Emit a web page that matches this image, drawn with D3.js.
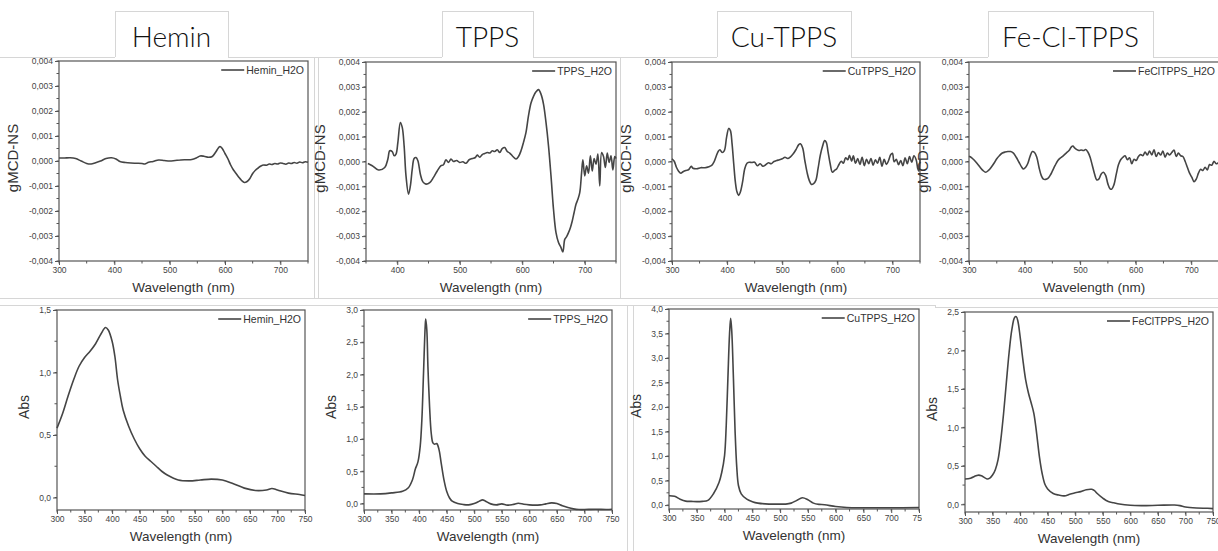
<!DOCTYPE html>
<html>
<head>
<meta charset="utf-8">
<script src="https://cdn.jsdelivr.net/npm/d3@7"></script>
<style>
  html, body { margin: 0; padding: 0; background: #fff; }
  svg { display: block; }
  text { font-family: "Liberation Sans", Arial, sans-serif; }
</style>
</head>
<body>
<svg id="chart" width="1218" height="551"></svg>
<script>
// ---- data ----
const titles = ["Hemin", "TPPS", "Cu-TPPS", "Fe-Cl-TPPS"];
const legendNames = ["Hemin_H2O", "TPPS_H2O", "CuTPPS_H2O", "FeClTPPS_H2O"];

// gMCD-NS, [wavelength nm, value]
const heminMcd = [[300,0.00012],[310,0.00012],[320,0.00013],[330,0.0001],[340,0.0],[350,-0.0001],[358,-0.00012],[365,-0.00008],[375,0.0],[385,0.0001],[395,0.00013],[403,0.00008],[410,-0.00002],[420,-0.00006],[430,-0.00008],[440,-0.00009],[450,-0.0001],[455,-0.00012],[462,-0.00005],[470,-0.00002],[480,0.00004],[490,0.00002],[500,0.0],[510,0.00002],[520,0.00004],[530,0.00005],[540,0.00006],[548,0.00012],[555,0.0002],[562,0.00019],[570,0.00015],[577,0.00018],[583,0.00035],[588,0.00052],[591,0.00058],[595,0.0005],[600,0.0003],[605,0.0001],[610,-0.00015],[615,-0.00035],[620,-0.0005],[625,-0.00065],[630,-0.00078],[635,-0.00086],[640,-0.00082],[645,-0.0007],[650,-0.0005],[655,-0.00037],[660,-0.00028],[665,-0.0002],[670,-0.00016],[675,-0.00017],[680,-0.00012],[685,-0.00014],[690,-0.0001],[695,-0.00012],[700,-0.00008],[705,-0.0001],[710,-0.00013],[715,-0.00008],[720,-0.0001],[725,-0.00006],[730,-0.00009],[735,-0.00004],[740,-0.00007],[745,-0.00003],[750,-0.00005]];
const tppsMcd = [[353,-0.00008],[360,-0.00017],[370,-0.00034],[380,-0.00024],[385,0.0001],[388,0.00043],[392,0.0004],[395,0.00023],[398,0.0003],[401,0.00077],[405,0.00157],[408,0.00137],[411,0.00063],[414,-0.00058],[418,-0.00131],[421,-0.00098],[424,-0.00031],[427,0.00012],[430,0.00016],[433,0.00003],[437,-0.00051],[441,-0.00082],[446,-0.00091],[452,-0.00085],[458,-0.00064],[464,-0.00038],[470,-0.00017],[474,-0.00013],[478,0.00007],[482,-0.00004],[486,0.0001],[490,0],[495,0.00004],[500,-0.00004],[505,-0.00001],[510,-0.00007],[515,0.00007],[520,0.00012],[525,0.00016],[528,0.00026],[532,0.00017],[536,0.00028],[540,0.00032],[544,0.00036],[548,0.00034],[552,0.00043],[556,0.0004],[560,0.00047],[564,0.00036],[568,0.00052],[572,0.00056],[576,0.0004],[580,0.00034],[585,0.0002],[590,0.0001],[594,0.0002],[598,0.00043],[602,0.00077],[606,0.00117],[610,0.00184],[614,0.00235],[618,0.00262],[622,0.0028],[626,0.00289],[630,0.00271],[634,0.00231],[638,0.00157],[642,0.00063],[646,-0.00058],[650,-0.00192],[654,-0.00286],[658,-0.00326],[662,-0.00346],[665,-0.00364],[668,-0.00313],[671,-0.00302],[674,-0.00286],[677,-0.00266],[680,-0.00239],[683,-0.00205],[686,-0.00172],[689,-0.00152],[692,-0.00125],[695,-0.00044],[697,0.00007],[700,-0.00058],[703,-0.00017],[706,-0.00047],[709,0.00023],[712,-0.00038],[715,0.00012],[718,-0.00011],[721,0.0003],[724,-0.00098],[727,0.00036],[730,0.0002],[733,-0.00024],[736,0.00034],[739,-0.00004],[742,0.00023],[745,-0.00034],[748,0.0002],[750,0.00012]];
const cuMcd = [[300,0.00011],[304,0.00001],[308,-0.00023],[312,-0.00039],[316,-0.00047],[320,-0.00041],[325,-0.00036],[330,-0.00033],[335,-0.00019],[338,-0.00027],[345,-0.00029],[352,-0.00025],[360,-0.00025],[367,-0.00021],[372,-0.00016],[376,-0.00003],[380,0.0002],[384,0.00041],[387,0.00047],[391,0.00036],[395,0.00044],[399,0.00097],[403,0.00133],[406,0.00124],[409,0.00071],[412,-0.00009],[415,-0.00083],[418,-0.00123],[421,-0.00136],[424,-0.00123],[428,-0.00083],[432,-0.00029],[436,-0.00007],[440,-0.00003],[445,-0.00004],[450,-0.00003],[455,-0.00017],[460,-0.00009],[465,-0.00019],[470,-0.00013],[475,-0.00005],[480,-0.00009],[485,0],[490,0.00004],[495,0.00007],[500,0.00011],[505,0.00017],[510,0.00012],[515,0.00019],[520,0.00031],[525,0.00048],[530,0.00068],[533,0.00071],[537,0.00055],[541,0.00004],[545,-0.00043],[549,-0.00076],[553,-0.00092],[557,-0.00089],[561,-0.00076],[565,-0.00029],[569,0.00024],[573,0.0006],[577,0.00084],[580,0.00077],[583,0.00041],[587,-0.00009],[591,-0.00043],[595,-0.00036],[599,-0.00029],[603,-0.00012],[607,0.00001],[611,-0.00007],[615,0.00015],[619,0.00007],[622,0.00025],[626,0.00001],[629,0.00023],[633,-0.00007],[637,0.00012],[641,-0.00012],[645,0.00017],[649,-0.00017],[653,0.00009],[657,-0.00009],[661,0.00012],[665,-0.00015],[669,0.00007],[673,-0.00007],[677,0.00017],[681,-0.00019],[685,0.00009],[689,-0.00012],[693,0.00004],[697,0.00028],[700,0.00033],[703,-0.00001],[707,0.00009],[711,-0.00013],[715,0.00004],[719,-0.00017],[723,0.00015],[727,-0.00009],[731,0.0002],[735,-0.00003],[739,0.00023],[743,0.00007],[746,-0.00029],[748,-0.00039],[750,0.00007]];
const feMcd = [[300,0.00021],[305,0.00015],[310,0.00004],[315,-0.00009],[320,-0.00023],[325,-0.00036],[330,-0.00043],[335,-0.00036],[340,-0.00023],[345,-0.00007],[350,0.00011],[355,0.00024],[360,0.00034],[365,0.00038],[370,0.0004],[375,0.0004],[380,0.00034],[385,0.00017],[390,-0.00003],[395,-0.00023],[398,-0.0003],[402,-0.00023],[406,-0.00007],[410,0.00021],[414,0.0004],[418,0.00036],[422,0.00017],[426,-0.00023],[430,-0.00056],[434,-0.00071],[438,-0.00072],[442,-0.00068],[446,-0.00056],[450,-0.00039],[455,-0.00016],[460,0.00004],[465,0.00015],[470,0.00024],[475,0.00034],[480,0.00044],[484,0.00058],[487,0.00062],[490,0.00055],[494,0.00048],[498,0.00044],[502,0.00046],[506,0.00044],[510,0.00048],[514,0.00038],[518,0.00017],[522,-0.00016],[526,-0.0005],[530,-0.00074],[534,-0.0007],[538,-0.0005],[542,-0.00043],[546,-0.00056],[550,-0.0009],[554,-0.0011],[557,-0.00111],[561,-0.00093],[565,-0.00052],[569,-0.00013],[573,0.00007],[577,0.00017],[581,0.00023],[585,0.00007],[589,0.00015],[593,-0.00009],[597,0.00009],[601,0.00004],[605,0.0002],[609,0.00028],[613,0.00023],[617,0.00038],[621,0.00026],[625,0.00042],[629,0.00026],[633,0.00047],[637,0.0002],[641,0.00036],[645,0.00026],[649,0.00042],[653,0.00017],[657,0.00034],[661,0.00026],[665,0.00036],[669,0.00046],[673,0.0002],[677,0.00034],[681,0.00023],[685,0.0002],[689,0.00001],[693,-0.00023],[697,-0.00047],[701,-0.00063],[705,-0.00081],[709,-0.00071],[713,-0.00047],[717,-0.00031],[721,-0.00036],[725,-0.00023],[729,-0.00034],[733,-0.00012],[737,-0.00015],[741,0.00001],[745,-0.00009],[750,-0.00003]];

// Abs, [wavelength nm, value]
const heminAbs = [[300,0.555],[310,0.67],[320,0.81],[330,0.94],[340,1.05],[350,1.12],[360,1.17],[370,1.23],[380,1.31],[388,1.36],[393,1.34],[400,1.25],[405,1.13],[410,0.94],[415,0.81],[420,0.7],[430,0.57],[440,0.47],[450,0.39],[460,0.33],[470,0.29],[480,0.25],[490,0.21],[500,0.18],[520,0.14],[540,0.133],[560,0.14],[580,0.147],[600,0.14],[620,0.11],[640,0.075],[660,0.056],[680,0.06],[690,0.072],[700,0.06],[720,0.035],[740,0.024],[750,0.016]];
const tppsAbs = [[300,0.15],[330,0.15],[350,0.165],[370,0.19],[380,0.24],[388,0.37],[393,0.53],[398,0.65],[402,0.89],[405,1.3],[408,2.02],[411,2.74],[412,2.86],[414,2.69],[416,2.12],[419,1.5],[422,1.09],[425,0.94],[428,0.92],[432,0.93],[436,0.84],[440,0.63],[445,0.37],[450,0.19],[455,0.09],[460,0.036],[470,0.0],[480,-0.015],[490,-0.02],[500,0.0],[510,0.04],[515,0.057],[520,0.04],[530,-0.005],[540,-0.02],[550,-0.005],[560,-0.025],[570,-0.015],[580,0.005],[590,-0.01],[600,-0.02],[610,-0.025],[620,-0.02],[630,-0.005],[640,0.01],[650,0.0],[660,-0.036],[670,-0.062],[680,-0.082],[690,-0.093],[700,-0.093],[720,-0.088],[740,-0.093],[750,-0.088]];
const cuAbs = [[300,0.19],[310,0.18],[320,0.12],[330,0.08],[340,0.075],[350,0.07],[360,0.075],[370,0.095],[380,0.23],[390,0.46],[395,0.67],[400,1.01],[403,1.62],[406,2.58],[409,3.5],[411,3.81],[413,3.54],[416,2.58],[419,1.49],[422,0.77],[425,0.4],[430,0.23],[440,0.12],[450,0.07],[460,0.04],[480,0.02],[500,0.02],[510,0.02],[520,0.04],[530,0.096],[540,0.15],[550,0.11],[560,0.04],[570,0.014],[580,0.007],[600,-0.03],[620,-0.05],[650,-0.055],[700,-0.055],[750,-0.05]];
const feAbs = [[300,0.33],[310,0.34],[320,0.37],[325,0.38],[330,0.37],[340,0.33],[345,0.34],[350,0.38],[355,0.45],[360,0.58],[365,0.84],[370,1.18],[375,1.58],[380,1.97],[385,2.27],[390,2.43],[393,2.44],[396,2.38],[400,2.18],[405,1.88],[410,1.62],[415,1.45],[420,1.32],[425,1.18],[430,0.92],[435,0.62],[440,0.4],[445,0.26],[450,0.2],[460,0.14],[470,0.12],[480,0.11],[490,0.13],[500,0.15],[510,0.165],[520,0.19],[530,0.195],[535,0.178],[540,0.14],[550,0.08],[560,0.035],[570,0.02],[580,0.004],[600,-0.013],[620,-0.017],[650,-0.013],[680,-0.009],[690,-0.017],[700,-0.035],[720,-0.048],[740,-0.052],[750,-0.056]];

const mcdYTicks = [-0.004,-0.003,-0.002,-0.001,0,0.001,0.002,0.003,0.004];
const mcdXTicks = [300,400,500,600,700];
const absXTicks = [300,350,400,450,500,550,600,650,700,750];
const heminAbsYTicks = [0,0.5,1.0,1.5];
const tppsAbsYTicks = [0,0.5,1.0,1.5,2.0,2.5,3.0];
const cuAbsYTicks = [0,0.5,1.0,1.5,2.0,2.5,3.0,3.5,4.0];
const feAbsYTicks = [0,0.5,1.0,1.5,2.0,2.5];

// ---- drawing ----
const svg = d3.select("#chart");
const sepColor = "#d6d6d6", axisColor = "#555", lineColor = "#454545";

const commaFmt = dp => v => (v < 0 ? "-" : "") + Math.abs(v).toFixed(dp).replace(".", ",");

// light frames of the pasted screenshots
const seps = [
  [0,57,115,57],[228,57,442,57],[533,57,717,57],[851,57,988,57],[1153,57,1218,57],
  [314,57,314,298],[318,57,318,298],[620,57,620,298],
  [0,298,1218,298],[0,305,935,305],[935,305,935,307],[935,307,1218,307],
  [627,305,627,551],[633,305,633,551]
];
svg.append("g").selectAll("line").data(seps).join("line")
  .attr("x1", d => d[0]).attr("y1", d => d[1]).attr("x2", d => d[2]).attr("y2", d => d[3])
  .attr("stroke", sepColor).attr("stroke-width", 1).attr("shape-rendering", "crispEdges");

// title tabs
const tabs = [[115,228],[442,533],[717,851],[988,1153]];
const tabG = svg.append("g").selectAll("g").data(tabs).join("g");
tabG.append("path")
  .attr("d", d => `M${d[0]},57V11H${d[1]}V57`)
  .attr("fill", "#fff").attr("stroke", sepColor).attr("shape-rendering", "crispEdges");
tabG.append("text")
  .attr("x", d => (d[0] + d[1]) / 2).attr("y", 47)
  .attr("text-anchor", "middle")
  .style("font-family", "Lato, 'Open Sans', sans-serif").style("font-size", "28px")
  .style("font-weight", "300").attr("fill", "#111")
  .text((d, i) => titles[i]);

let clipId = 0;
function drawPlot(o) {
  const g = svg.append("g");
  if (o.clipRight) {
    const id = "clip" + (clipId++);
    svg.append("clipPath").attr("id", id).append("rect")
      .attr("x", 0).attr("y", 0).attr("width", o.clipRight).attr("height", 551);
    g.attr("clip-path", `url(#${id})`);
  }
  const x = d3.scaleLinear().domain(o.xDomain).range([o.left, o.right]);
  const y = d3.scaleLinear().domain(o.yDomain).range([o.bottom, o.top]);

  // minor ticks
  const xMinor = d3.range(o.xDomain[0], o.xDomain[1] + 0.01, o.xMinorStep).filter(v => v >= o.xDomain[0]);
  const yMinor = d3.range(0, o.yDomain[1] + 1e-9, o.yMinorStep).concat(d3.range(-o.yMinorStep, o.yDomain[0] - 1e-9, -o.yMinorStep));
  g.append("g").selectAll("line").data(xMinor).join("line")
    .attr("x1", d => x(d)).attr("x2", d => x(d)).attr("y1", o.bottom).attr("y2", o.bottom + 2.5)
    .attr("stroke", axisColor);
  g.append("g").selectAll("line").data(yMinor.filter(v => v >= o.yDomain[0] && v <= o.yDomain[1])).join("line")
    .attr("y1", d => y(d)).attr("y2", d => y(d)).attr("x1", o.left - 2.5).attr("x2", o.left)
    .attr("stroke", axisColor);

  // major ticks via axes
  const xAxis = d3.axisBottom(x).tickValues(o.xTicks).tickSize(4).tickSizeOuter(0).tickPadding(2).tickFormat(d3.format("d"));
  const yAxis = d3.axisLeft(y).tickValues(o.yTicks).tickSize(4).tickSizeOuter(0).tickPadding(2).tickFormat(o.yFmt);
  const gx = g.append("g").attr("transform", `translate(0,${o.bottom})`).call(xAxis);
  const gy = g.append("g").attr("transform", `translate(${o.left},0)`).call(yAxis);
  [gx, gy].forEach(a => {
    a.select(".domain").remove();
    a.selectAll("line").attr("stroke", axisColor);
    a.selectAll("text").attr("fill", "#444").style("font-size", "8.5px")
      .style("font-family", "'Liberation Sans', Arial, sans-serif");
  });

  // frame
  g.append("rect").attr("x", o.left).attr("y", o.top)
    .attr("width", o.right - o.left).attr("height", o.bottom - o.top)
    .attr("fill", "none").attr("stroke", axisColor).attr("stroke-width", 1.2);

  // curve
  const line = d3.line().x(d => x(d[0])).y(d => y(d[1])).curve(d3.curveCatmullRom.alpha(0.5));
  g.append("path").datum(o.data).attr("d", line)
    .attr("fill", "none").attr("stroke", lineColor).attr("stroke-width", 1.6)
    .attr("stroke-linejoin", "round");

  // legend
  const lx = o.right - 4;
  const lt = g.append("text").attr("x", lx).attr("y", o.top + 12.5).attr("text-anchor", "end")
    .style("font-size", "10.5px").attr("fill", "#333").text(o.legend);
  const tw = lt.node().getComputedTextLength();
  g.append("line").attr("x1", lx - tw - 25).attr("x2", lx - tw - 2)
    .attr("y1", o.top + 9).attr("y2", o.top + 9).attr("stroke", lineColor).attr("stroke-width", 1.6);

  // axis titles
  g.append("text").attr("x", (o.left + o.right) / 2).attr("y", o.bottom + 31)
    .attr("text-anchor", "middle").style("font-size", "13.5px").attr("fill", "#333")
    .text("Wavelength (nm)");
  g.append("text")
    .attr("transform", `translate(${o.left - o.ylabOff},${(o.top + o.bottom) / 2 - 3}) rotate(-90)`)
    .attr("text-anchor", "middle").style("font-size", o.ylabSize).attr("fill", "#333")
    .text(o.ylabel);
}

const mcdData = [heminMcd, tppsMcd, cuMcd, feMcd];
const absData = [heminAbs, tppsAbs, cuAbs, feAbs];
const topBoxes = [[59,308,61,261],[366,616,62,261],[672,920,62,261],[969,1219,62,261]];
const mcdXDomains = [[300,750],[350,750],[300,750],[300,750]];
const botBoxes = [[57,305,310,510],[364,612,310,510],[669,919,309,509],[965,1213,312,512]];
const absYDomains = [[-0.1,1.5],[-0.1,3.0],[-0.08,4.0],[-0.1,2.5]];
const absYTickSets = [heminAbsYTicks, tppsAbsYTicks, cuAbsYTicks, feAbsYTicks];

mcdData.forEach((data, i) => {
  const b = topBoxes[i];
  drawPlot({
    left: b[0], right: b[1], top: b[2], bottom: b[3],
    xDomain: mcdXDomains[i], yDomain: [-0.004, 0.004],
    xTicks: mcdXTicks.filter(v => v >= mcdXDomains[i][0]), xMinorStep: 50,
    yTicks: mcdYTicks, yMinorStep: 0.0005, yFmt: commaFmt(3),
    data, legend: legendNames[i], ylabel: "gMCD-NS", ylabOff: 41, ylabSize: "15px"
  });
});

absData.forEach((data, i) => {
  const b = botBoxes[i];
  drawPlot({
    left: b[0], right: b[1], top: b[2], bottom: b[3],
    xDomain: [300, 750], yDomain: absYDomains[i],
    xTicks: absXTicks, xMinorStep: 25,
    yTicks: absYTickSets[i], yMinorStep: 0.25, yFmt: commaFmt(1),
    data, legend: legendNames[i], ylabel: "Abs", ylabOff: 28, ylabSize: "14px",
    clipRight: i === 2 ? 922 : null
  });
});
</script>
</body>
</html>
